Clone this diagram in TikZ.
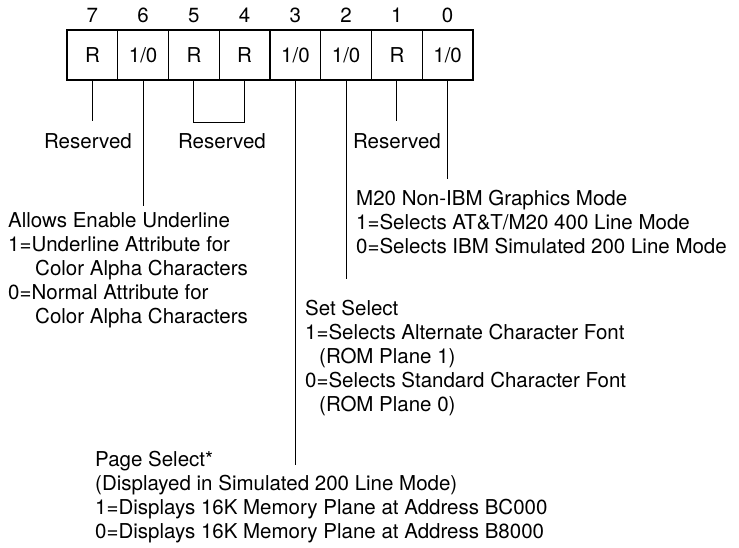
\documentclass[tikz,border=0pt]{standalone}
\usepackage{fontspec}
\setmainfont{TeX Gyre Heros}
\begin{document}
\begin{tikzpicture}
			[x=1pt,y=-1pt,
			 txt/.style={inner sep=0pt,font=\fontsize{20.5}{24}\selectfont},
			 cell/.style={txt,draw,line width=1.2pt,minimum width=50.75pt,minimum height=50pt},
			 bitno/.style={txt,anchor=base},
			 res/.style={txt,anchor=base},
			 note/.style={txt,anchor=base west,align=left},
			 wire/.style={line width=1.1pt}]
			\useasboundingbox (0,0) rectangle (739,547);
			\node[cell,name=b7] at (92.4,55) {R};
			\node[cell,name=b6] at (143.1,55) {1/0};
			\node[cell,name=b5] at (193.9,55) {R};
			\node[cell,name=b4] at (244.6,55) {R};
			\node[cell,name=b3] at (295.4,55) {1/0};
			\node[cell,name=b2] at (346.1,55) {1/0};
			\node[cell,name=b1] at (396.9,55) {R};
			\node[cell,name=b0] at (447.6,55) {1/0};
			\node[bitno,name=n7] at (92.4,22) {7};
			\node[bitno,name=n6] at (143.1,22) {6};
			\node[bitno,name=n5] at (193.9,22) {5};
			\node[bitno,name=n4] at (244.6,22) {4};
			\node[bitno,name=n3] at (295.4,22) {3};
			\node[bitno,name=n2] at (346.1,22) {2};
			\node[bitno,name=n1] at (396.9,22) {1};
			\node[bitno,name=n0] at (447.6,22) {0};
			\node[res,name=res7] at (88,148) {Reserved};
			\node[res,name=res54] at (222,148) {Reserved};
			\node[res,name=res1] at (397,148) {Reserved};
			% multi-line notes: base anchor sits on the last line
			\node[note,name=t6] at (8,323) {Allows Enable Underline\\
				1=Underline Attribute for\\
				\hspace*{27pt}Color Alpha Characters\\
				0=Normal Attribute for\\
				\hspace*{27pt}Color Alpha Characters};
			\node[note,name=t0] at (356,253) {M20 Non-IBM Graphics Mode\\
				1=Selects AT\&T/M20 400 Line Mode\\
				0=Selects IBM Simulated 200 Line Mode};
			\node[note,name=t2] at (305,411) {Set Select\\
				1=Selects Alternate Character Font\\
				\hspace*{14pt}(ROM Plane 1)\\
				0=Selects Standard Character Font\\
				\hspace*{14pt}(ROM Plane 0)};
			\node[note,name=t3] at (95,538) {Page Select*\\
				(Displayed in Simulated 200 Line Mode)\\
				1=Displays 16K Memory Plane at Address BC000\\
				0=Displays 16K Memory Plane at Address B8000};
			\coordinate (e3) at (295.4,465);
			\draw[wire,shorten >=12pt](b7.south)--(b7.south |- res7.north);
			\draw[wire,shorten >=12pt](b1.south)--(b1.south |- res1.north);
			\draw[wire](b5.south)--++(0,42)-|(b4.south);
			\draw[wire,shorten >=6pt](b6.south)--(b6.south |- t6.north);
			\draw[wire,shorten >=10pt](b0.south)--(b0.south |- t0.north);
			\draw[wire,shorten >=20pt](b2.south)--(b2.south |- t2.north);
			\draw[wire](b3.south)--(e3);
		\end{tikzpicture}
\end{document}
